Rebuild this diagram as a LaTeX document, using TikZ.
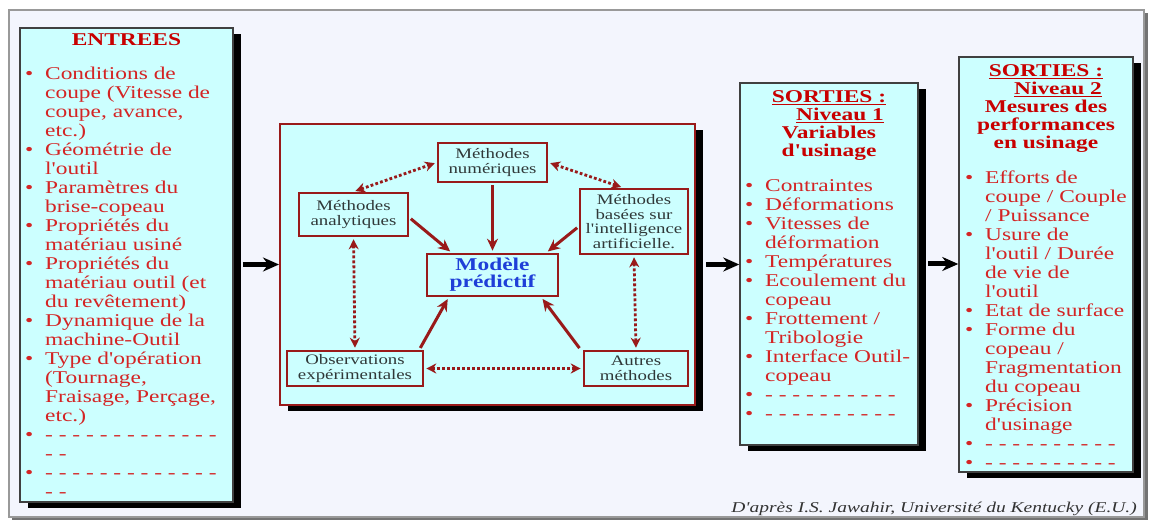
\documentclass[tikz,border=0pt]{standalone}
\usepackage{fontspec}
\setmainfont{Liberation Serif}[FakeStretch=1.3,Ligatures=TeXOff]
\usetikzlibrary{arrows.meta,positioning,calc,shadows}
\definecolor{pale}{HTML}{CCFFFF}
\definecolor{sheet}{HTML}{F3F5FD}
\definecolor{brick}{HTML}{991A1A}
\definecolor{itemred}{HTML}{D42424}
\definecolor{headred}{HTML}{C80000}
\definecolor{inktxt}{HTML}{303838}
\definecolor{modblue}{HTML}{1F3FD8}
\tikzstyle{bigbox}=[draw=black!75,line width=1.5pt,fill=pale,inner sep=0pt,drop shadow={shadow xshift=8pt,shadow yshift=-6pt,fill=black,opacity=1}]
\tikzstyle{headtxt}=[text=headred,font=\bfseries\fontsize{18}{18}\selectfont,align=center,inner sep=0pt]
\tikzstyle{listtxt}=[text=itemred,font=\fontsize{18}{19}\selectfont,align=left,inner sep=0pt]
\tikzstyle{method}=[draw=brick,line width=2.6pt,fill=pale,text=inktxt,font=\fontsize{14.5}{14.5}\selectfont,align=center,inner sep=1pt]
\tikzstyle{feed}=[brick,line width=3pt,-{Stealth[length=12pt,width=11pt]},shorten >=2pt,shorten <=2pt]
\tikzstyle{link}=[brick,line width=2.8pt,dash pattern=on 2.8pt off 2.2pt,{Stealth[length=10pt,width=10pt]}-{Stealth[length=10pt,width=10pt]},shorten >=2pt,shorten <=2pt]
\tikzstyle{flow}=[black,line width=5pt,-{Stealth[length=16pt,width=14pt]}]
\newcommand{\bul}{\makebox[20pt][l]{\textbullet}}
\newcommand{\ind}{\hspace*{20pt}}

\begin{document}
\begin{tikzpicture}[x=1pt,y=-1pt]
    \useasboundingbox (0,0) rectangle (1149,521);
    \fill[black!55] (12,13) rectangle (1148,520);
    \draw[black!40,line width=1.2pt,fill=sheet] (9,10) rectangle (1144,517);

    \node [bigbox,minimum width=213pt,minimum height=474pt] (entrees) at (126.5,265) {};
    \node [headtxt,anchor=north] (entreestitle) at (126.5,33) {ENTREES};
    \node [listtxt,anchor=north west] (entreeslist) at (25,67) {\bul Conditions de\\ \ind coupe (Vitesse de\\ \ind coupe, avance,\\ \ind etc.)\\
      \bul Géométrie de\\ \ind l'outil\\
      \bul Paramètres du\\ \ind brise-copeau\\
      \bul Propriétés du\\ \ind matériau usiné\\
      \bul Propriétés du\\ \ind matériau outil (et\\ \ind du revêtement)\\
      \bul Dynamique de la\\ \ind machine-Outil\\
      \bul Type d'opération\\ \ind (Tournage,\\ \ind Fraisage, Perçage,\\ \ind etc.)\\
      \bul - - - - - - - - - - - - -\\ \ind - -\\
      \bul - - - - - - - - - - - - -\\ \ind - -};

    \node [bigbox,draw=brick,line width=2pt,minimum width=415pt,minimum height=281pt] (cbox) at (487.5,264.5) {};
    \node [method,minimum width=109pt,minimum height=39pt] (num) at (492.5,162.5) {Méthodes\\numériques};
    \node [method,minimum width=109pt,minimum height=43pt] (ana) at (353.5,214.5) {Méthodes\\analytiques};
    \node [method,minimum width=108pt,minimum height=65pt] (ia) at (634,221.5) {Méthodes\\basées sur\\l'intelligence\\artificielle.};
    \node [method,minimum width=131pt,minimum height=42pt,text=modblue,font=\bfseries\fontsize{18}{17}\selectfont] (mod) at (492.5,275) {Modèle\\prédictif};
    \node [method,minimum width=136pt,minimum height=35pt] (obs) at (355,368.5) {Observations\\expérimentales};
    \node [method,minimum width=104pt,minimum height=35pt] (aut) at (636,368.5) {Autres\\méthodes};

    \draw [feed] ([yshift=-3pt]ana.east) -- ([xshift=26pt]mod.north west);
    \draw [feed] (num.south) -- (mod.north);
    \draw [feed] ([yshift=-5pt]ia.west) -- ([xshift=-13pt]mod.north east);
    \draw [feed] ([xshift=-5pt]obs.north east) -- ([xshift=23pt]mod.south west);
    \draw [feed] ([xshift=-2pt]aut.north west) -- ([xshift=-18pt]mod.south east);
    \draw [link] (ana.north) -- (num.west);
    \draw [link] (num.east) -- ([xshift=-11pt]ia.north);
    \draw [link] (ana.south) -- (obs.north);
    \draw [link] (ia.south) -- (aut.north);
    \draw [link] (obs.east) -- (aut.west);

    \node [bigbox,minimum width=178pt,minimum height=362pt] (niv1) at (829,264) {};
    \node [headtxt,anchor=north] (niv1title) at (829,90) {\underline{SORTIES :}\\\hspace*{22pt}\underline{Niveau 1}\\Variables\\d'usinage};
    \node [listtxt,anchor=north west] (niv1list) at (745,179) {\bul Contraintes\\ \bul Déformations\\ \bul Vitesses de\\ \ind déformation\\
      \bul Températures\\ \bul Ecoulement du\\ \ind copeau\\ \bul Frottement /\\ \ind Tribologie\\
      \bul Interface Outil-\\ \ind copeau\\ \bul - - - - - - - - - -\\ \bul - - - - - - - - - -};

    \node [bigbox,minimum width=174pt,minimum height=415pt] (niv2) at (1046,264.5) {};
    \node [headtxt,anchor=north] (niv2title) at (1046,64) {\underline{SORTIES :}\\\hspace*{24pt}\underline{Niveau 2}\\Mesures des\\performances\\en usinage};
    \node [listtxt,anchor=north west] (niv2list) at (965,171) {\bul Efforts de\\ \ind coupe / Couple\\ \ind / Puissance\\
      \bul Usure de\\ \ind l'outil / Durée\\ \ind de vie de\\ \ind l'outil\\
      \bul Etat de surface\\ \bul Forme du\\ \ind copeau /\\ \ind Fragmentation\\ \ind du copeau\\
      \bul Précision\\ \ind d'usinage\\ \bul - - - - - - - - - -\\ \bul - - - - - - - - - -};

    \draw [flow] ([xshift=9pt]entrees.east |- cbox.west) -- (cbox.west);
    \draw [flow] ([xshift=10pt]cbox.east) -- (niv1.west |- cbox.east);
    \draw [flow] ([xshift=9pt]niv1.east) -- (niv2.west |- niv1.east);

    \node [anchor=base east,text=black!80,font=\itshape\fontsize{15}{15}\selectfont,inner sep=0pt] (credit) at (1137,512) {D'après I.S. Jawahir, Université du Kentucky (E.U.)};
\end{tikzpicture}
\end{document}
